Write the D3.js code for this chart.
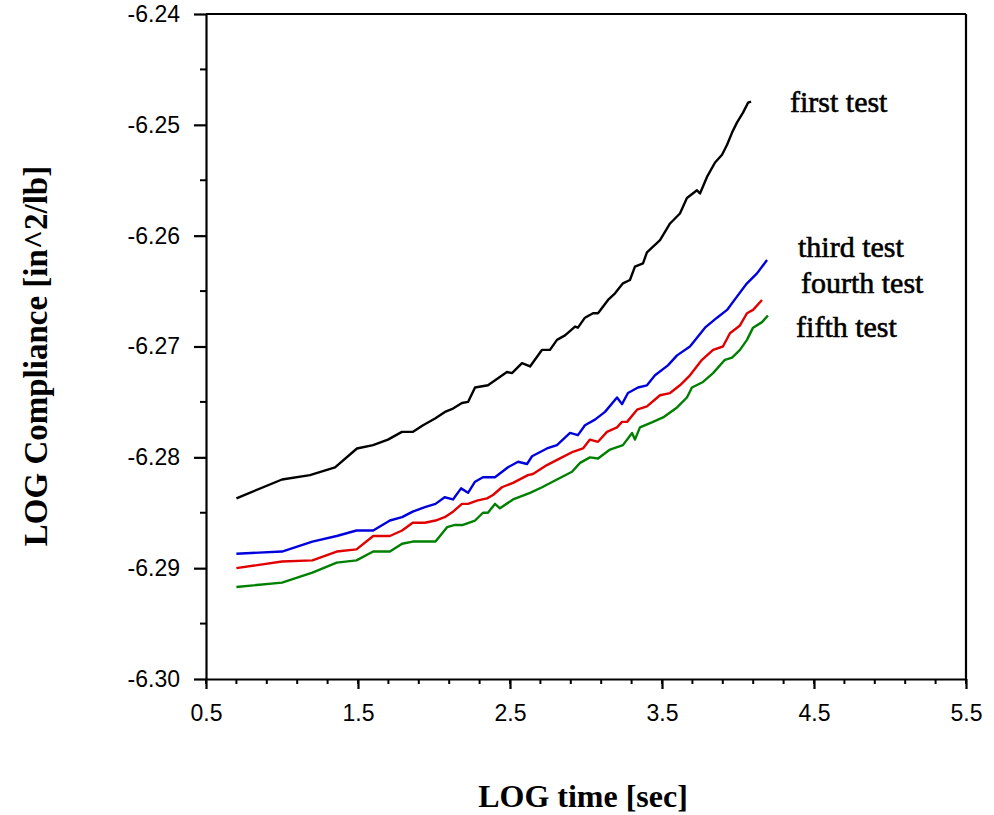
<!DOCTYPE html>
<html><head><meta charset="utf-8">
<script src="https://cdn.jsdelivr.net/npm/d3@7/dist/d3.min.js"></script>
<style>body{margin:0;background:#fff}svg{display:block}</style>
</head><body>
<svg id="chart" width="994" height="815"></svg>
<script>
const firstTest = [[0.70,-6.2837],[1.00,-6.2820],[1.184,-6.2816],[1.349,-6.2809],[1.493,-6.2792],[1.599,-6.2789],[1.697,-6.2784],[1.789,-6.2777],[1.862,-6.2777],[1.928,-6.2771],[2.007,-6.2765],[2.072,-6.2759],[2.125,-6.2756],[2.184,-6.2751],[2.224,-6.2750],[2.270,-6.2737],[2.355,-6.2735],[2.480,-6.2723],[2.513,-6.2724],[2.579,-6.2715],[2.632,-6.2718],[2.711,-6.2703],[2.763,-6.2703],[2.809,-6.2694],[2.862,-6.2690],[2.928,-6.2682],[2.947,-6.2683],[2.993,-6.2674],[3.046,-6.2670],[3.079,-6.2670],[3.145,-6.2658],[3.191,-6.2652],[3.243,-6.2643],[3.289,-6.2640],[3.322,-6.2628],[3.375,-6.2625],[3.401,-6.2615],[3.487,-6.2604],[3.553,-6.2589],[3.618,-6.2580],[3.664,-6.2566],[3.730,-6.2559],[3.750,-6.2562],[3.796,-6.2547],[3.849,-6.2534],[3.895,-6.2527],[3.928,-6.2518],[3.961,-6.2507],[3.993,-6.2498],[4.033,-6.2489],[4.066,-6.2480],[4.086,-6.2479]];
const thirdTest = [[0.70,-6.2887],[1.00,-6.2885],[1.20,-6.2876],[1.36,-6.2871],[1.49,-6.2866],[1.60,-6.2866],[1.71,-6.2857],[1.79,-6.2854],[1.86,-6.2849],[1.94,-6.2845],[2.01,-6.2842],[2.07,-6.2836],[2.125,-6.2838],[2.178,-6.2828],[2.224,-6.2832],[2.27,-6.2822],[2.322,-6.2818],[2.401,-6.2818],[2.487,-6.2809],[2.553,-6.2804],[2.612,-6.2806],[2.645,-6.2799],[2.743,-6.2792],[2.809,-6.2789],[2.895,-6.2778],[2.947,-6.2780],[2.993,-6.2771],[3.059,-6.2766],[3.125,-6.2759],[3.204,-6.2746],[3.237,-6.2752],[3.276,-6.2742],[3.342,-6.2737],[3.401,-6.2735],[3.454,-6.2726],[3.539,-6.2717],[3.599,-6.2708],[3.684,-6.2700],[3.783,-6.2683],[3.862,-6.2674],[3.928,-6.2667],[3.993,-6.2655],[4.059,-6.2643],[4.125,-6.2634],[4.191,-6.2622]];
const fourthTest = [[0.70,-6.2900],[1.00,-6.2894],[1.20,-6.2893],[1.36,-6.2885],[1.49,-6.2883],[1.60,-6.2871],[1.71,-6.2871],[1.79,-6.2866],[1.86,-6.2859],[1.94,-6.2859],[2.01,-6.2857],[2.07,-6.2854],[2.125,-6.2849],[2.184,-6.2842],[2.224,-6.2842],[2.283,-6.2839],[2.349,-6.2837],[2.388,-6.2834],[2.447,-6.2827],[2.520,-6.2823],[2.618,-6.2816],[2.651,-6.2815],[2.743,-6.2807],[2.829,-6.2801],[2.914,-6.2795],[2.980,-6.2792],[3.026,-6.2784],[3.079,-6.2786],[3.138,-6.2777],[3.204,-6.2773],[3.237,-6.2768],[3.270,-6.2768],[3.336,-6.2757],[3.401,-6.2754],[3.487,-6.2744],[3.553,-6.2742],[3.618,-6.2735],[3.684,-6.2726],[3.763,-6.2712],[3.836,-6.2703],[3.901,-6.2700],[3.947,-6.2688],[4.013,-6.2681],[4.059,-6.2670],[4.099,-6.2667],[4.158,-6.2658]];
const fifthTest = [[0.70,-6.2917],[1.00,-6.2913],[1.20,-6.2904],[1.36,-6.2895],[1.49,-6.2893],[1.60,-6.2885],[1.71,-6.2885],[1.79,-6.2878],[1.86,-6.2876],[2.01,-6.2876],[2.086,-6.2863],[2.138,-6.2861],[2.191,-6.2861],[2.270,-6.2857],[2.322,-6.2850],[2.355,-6.2850],[2.401,-6.2842],[2.434,-6.2846],[2.520,-6.2838],[2.632,-6.2832],[2.711,-6.2827],[2.809,-6.2820],[2.908,-6.2813],[2.961,-6.2805],[3.026,-6.2800],[3.079,-6.2801],[3.158,-6.2793],[3.243,-6.2789],[3.303,-6.2778],[3.322,-6.2784],[3.355,-6.2773],[3.441,-6.2768],[3.507,-6.2764],[3.599,-6.2755],[3.664,-6.2746],[3.697,-6.2737],[3.770,-6.2732],[3.836,-6.2724],[3.914,-6.2712],[3.961,-6.2710],[4.013,-6.2703],[4.059,-6.2694],[4.099,-6.2683],[4.158,-6.2678],[4.197,-6.2672]];

const seriesNames = ["first test","third test","fourth test","fifth test"];
const seriesColors = ["#000000","#0000dd","#e00000","#008000"];
const seriesData = [firstTest, thirdTest, fourthTest, fifthTest];
const labelPos = [[4.342,-6.2488],[4.395,-6.2619],[4.414,-6.2652],[4.382,-6.2691]];

const xTicks = [0.5,1.5,2.5,3.5,4.5,5.5];
const xTickLabels = ["0.5","1.5","2.5","3.5","4.5","5.5"];
const xMinor = d3.range(0.5,5.51,0.2);
const yTicks = [-6.24,-6.25,-6.26,-6.27,-6.28,-6.29,-6.30];
const yTickLabels = ["-6.24","-6.25","-6.26","-6.27","-6.28","-6.29","-6.30"];
const yMinor = d3.range(-6.295,-6.24,0.01);

const L=206, R=966, T=14, B=679;
const x = d3.scaleLinear().domain([0.5,5.5]).range([L,R]);
const y = d3.scaleLinear().domain([-6.30,-6.24]).range([B,T]);
const svg = d3.select("#chart");

// frame
svg.append("line").attr("x1",L).attr("x2",R).attr("y1",T).attr("y2",T).attr("stroke","#000").attr("stroke-width",2.2);
svg.append("line").attr("x1",R).attr("x2",R).attr("y1",T).attr("y2",B).attr("stroke","#000").attr("stroke-width",2.2);

const xAx = svg.append("g").attr("transform",`translate(0,${B})`)
  .call(d3.axisBottom(x).tickValues(xTicks).tickFormat((d,i)=>xTickLabels[i]).tickSize(10).tickSizeOuter(0).tickPadding(16));
xAx.append("g").selectAll("line").data(xMinor).join("line")
  .attr("x1",d=>x(d)).attr("x2",d=>x(d)).attr("y1",0).attr("y2",5).attr("stroke","#000").attr("stroke-width",2);
const yAx = svg.append("g").attr("transform",`translate(${L},0)`)
  .call(d3.axisLeft(y).tickValues(yTicks).tickFormat((d,i)=>yTickLabels[i]).tickSize(12).tickSizeOuter(0).tickPadding(14));
yAx.append("g").selectAll("line").data(yMinor).join("line")
  .attr("x1",0).attr("x2",-6).attr("y1",d=>y(d)).attr("y2",d=>y(d)).attr("stroke","#000").attr("stroke-width",2);
[xAx,yAx].forEach(g=>{
  g.attr("font-size",null).attr("font-family",null);
  g.select(".domain").attr("stroke-width",2.2);
  g.selectAll(".tick line").attr("stroke-width",2.2);
  g.selectAll("text").attr("font-family","'Liberation Sans', Arial, sans-serif").attr("font-size",23).attr("fill","#000");
});

const line = d3.line().x(d=>x(d[0])).y(d=>y(d[1]));
seriesData.forEach((data,i)=>{
  svg.append("path").datum(data).attr("d",line).attr("fill","none")
    .attr("stroke",seriesColors[i]).attr("stroke-width",2.4).attr("stroke-linejoin","round");
  svg.append("text").attr("x",x(labelPos[i][0])).attr("y",y(labelPos[i][1]))
    .attr("font-family","'Liberation Serif','Times New Roman',serif").attr("font-size",30)
    .attr("fill","#000").attr("stroke","#000").attr("stroke-width",0.6).text(seriesNames[i]);
});

svg.append("text").attr("x",583).attr("y",807).attr("text-anchor","middle")
  .attr("font-family","'Liberation Serif','Times New Roman',serif").attr("font-weight","bold").attr("font-size",32)
  .text("LOG time [sec]");
svg.append("text").attr("transform","translate(47,356) rotate(-90)").attr("text-anchor","middle")
  .attr("font-family","'Liberation Serif','Times New Roman',serif").attr("font-weight","bold").attr("font-size",33)
  .text("LOG Compliance [in^2/lb]");
</script>
</body></html>
